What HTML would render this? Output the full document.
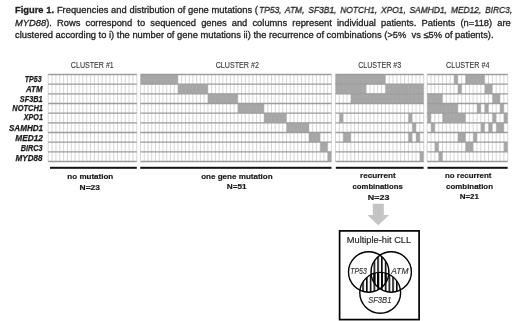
<!DOCTYPE html>
<html><head><meta charset="utf-8">
<style>
html,body{margin:0;padding:0;background:#fff;}
body{width:520px;height:321px;overflow:hidden;position:relative;filter:blur(0.35px);}
svg{position:absolute;left:0;top:0;will-change:transform;}
text{font-family:"Liberation Sans",sans-serif;}
.cap{will-change:transform;position:absolute;left:15.4px;font-family:"Liberation Sans",sans-serif;font-size:9.36px;line-height:10px;color:#222;-webkit-text-stroke:0.3px #222;white-space:nowrap;}
#c1{width:243px;text-align:justify;text-align-last:justify;}
#c1b{left:258.6px;width:281.3px;text-align:justify;text-align-last:justify;transform:scaleX(0.9);transform-origin:0 0;}
#c2{width:495.8px;text-align:justify;text-align-last:justify;}
.hdr{font-size:9.6px;fill:#333;stroke:#333;stroke-width:0.1px;}
.gene{font-size:8.8px;font-weight:bold;font-style:italic;fill:#1a1a1a;stroke:#1a1a1a;stroke-width:0.25px;}
.lbl{font-size:7.9px;font-weight:bold;fill:#1a1a1a;stroke:#1a1a1a;stroke-width:0.2px;}
.venn{font-size:8.6px;font-style:italic;fill:#333;stroke:#333;stroke-width:0.15px;}
.mh{font-size:9px;fill:#222;stroke:#222;stroke-width:0.15px;}
</style></head><body>

<div class="cap" id="c1" style="top:5.16px"><b>Figure 1.</b> Frequencies and distribution of gene mutations (</div>
<div class="cap" id="c1b" style="top:5.16px"><i>TP53, ATM, SF3B1, NOTCH1, XPO1, SAMHD1, MED12, BIRC3,</i></div>
<div class="cap" id="c2" style="top:17.56px"><i>MYD88</i>). Rows correspond to sequenced genes and columns represent individual patients. Patients (n=118) are</div>
<div class="cap" id="c3" style="top:29.66px">clustered according to i) the number of gene mutations ii) the recurrence of combinations (&gt;5%&nbsp; vs &#8804;5% of patients).</div>

<svg width="520" height="321" viewBox="0 0 520 321">
<defs>
<pattern id="hatch" patternUnits="userSpaceOnUse" x="362.3" y="0" width="3.75" height="10">
<rect x="0" y="0" width="1.55" height="10" fill="#000"/>
</pattern>
<clipPath id="cT"><circle cx="368.7" cy="272" r="20.2"/></clipPath>
<clipPath id="cA"><circle cx="391.2" cy="272" r="20.2"/></clipPath>
<clipPath id="cS"><circle cx="380.2" cy="292.8" r="20.4"/></clipPath>
</defs>
<rect x="48.2" y="74.5" width="88.6" height="87" fill="#fff"/>
<path d="M48.2 74.5V161.5M52.05 74.5V161.5M55.9 74.5V161.5M59.76 74.5V161.5M63.61 74.5V161.5M67.46 74.5V161.5M71.31 74.5V161.5M75.17 74.5V161.5M79.02 74.5V161.5M82.87 74.5V161.5M86.72 74.5V161.5M90.57 74.5V161.5M94.43 74.5V161.5M98.28 74.5V161.5M102.13 74.5V161.5M105.98 74.5V161.5M109.83 74.5V161.5M113.69 74.5V161.5M117.54 74.5V161.5M121.39 74.5V161.5M125.24 74.5V161.5M129.1 74.5V161.5M132.95 74.5V161.5M136.8 74.5V161.5" stroke="#aeaeae" stroke-width="0.5" fill="none"/>
<path d="M48.2 74.5H136.8M48.2 84.17H136.8M48.2 93.83H136.8M48.2 103.5H136.8M48.2 113.17H136.8M48.2 122.83H136.8M48.2 132.5H136.8M48.2 142.17H136.8M48.2 151.83H136.8M48.2 161.5H136.8" stroke="#9c9c9c" stroke-width="1.3" fill="none"/>
<rect x="140.5" y="74.5" width="190.9" height="87" fill="#fff"/>
<rect x="140.5" y="74.5" width="37.43" height="9.67" fill="#a6a6a6"/>
<rect x="177.93" y="84.17" width="29.95" height="9.67" fill="#a6a6a6"/>
<rect x="207.88" y="93.83" width="29.95" height="9.67" fill="#a6a6a6"/>
<rect x="237.82" y="103.5" width="26.2" height="9.67" fill="#a6a6a6"/>
<rect x="264.02" y="113.17" width="22.46" height="9.67" fill="#a6a6a6"/>
<rect x="286.48" y="122.83" width="22.46" height="9.67" fill="#a6a6a6"/>
<rect x="308.94" y="132.5" width="11.23" height="9.67" fill="#a6a6a6"/>
<rect x="320.17" y="142.17" width="7.49" height="9.67" fill="#a6a6a6"/>
<rect x="327.66" y="151.83" width="3.74" height="9.67" fill="#a6a6a6"/>
<path d="M140.5 74.5V161.5M144.24 74.5V161.5M147.99 74.5V161.5M151.73 74.5V161.5M155.47 74.5V161.5M159.22 74.5V161.5M162.96 74.5V161.5M166.7 74.5V161.5M170.45 74.5V161.5M174.19 74.5V161.5M177.93 74.5V161.5M181.67 74.5V161.5M185.42 74.5V161.5M189.16 74.5V161.5M192.9 74.5V161.5M196.65 74.5V161.5M200.39 74.5V161.5M204.13 74.5V161.5M207.88 74.5V161.5M211.62 74.5V161.5M215.36 74.5V161.5M219.11 74.5V161.5M222.85 74.5V161.5M226.59 74.5V161.5M230.34 74.5V161.5M234.08 74.5V161.5M237.82 74.5V161.5M241.56 74.5V161.5M245.31 74.5V161.5M249.05 74.5V161.5M252.79 74.5V161.5M256.54 74.5V161.5M260.28 74.5V161.5M264.02 74.5V161.5M267.77 74.5V161.5M271.51 74.5V161.5M275.25 74.5V161.5M279 74.5V161.5M282.74 74.5V161.5M286.48 74.5V161.5M290.23 74.5V161.5M293.97 74.5V161.5M297.71 74.5V161.5M301.45 74.5V161.5M305.2 74.5V161.5M308.94 74.5V161.5M312.68 74.5V161.5M316.43 74.5V161.5M320.17 74.5V161.5M323.91 74.5V161.5M327.66 74.5V161.5M331.4 74.5V161.5" stroke="#aeaeae" stroke-width="0.5" fill="none"/>
<path d="M140.5 74.5H331.4M140.5 84.17H331.4M140.5 93.83H331.4M140.5 103.5H331.4M140.5 113.17H331.4M140.5 122.83H331.4M140.5 132.5H331.4M140.5 142.17H331.4M140.5 151.83H331.4M140.5 161.5H331.4" stroke="#9c9c9c" stroke-width="1.3" fill="none"/>
<rect x="335.5" y="74.5" width="88.2" height="87" fill="#fff"/>
<rect x="335.5" y="74.5" width="49.85" height="9.67" fill="#a6a6a6"/>
<rect x="335.5" y="84.17" width="30.68" height="9.67" fill="#a6a6a6"/>
<rect x="385.35" y="84.17" width="38.35" height="9.67" fill="#a6a6a6"/>
<rect x="350.84" y="93.83" width="72.86" height="9.67" fill="#a6a6a6"/>
<rect x="339.33" y="113.17" width="3.83" height="9.67" fill="#a6a6a6"/>
<rect x="408.36" y="113.17" width="3.83" height="9.67" fill="#a6a6a6"/>
<rect x="412.2" y="122.83" width="3.83" height="9.67" fill="#a6a6a6"/>
<rect x="343.17" y="132.5" width="7.67" height="9.67" fill="#a6a6a6"/>
<rect x="408.36" y="132.5" width="3.83" height="9.67" fill="#a6a6a6"/>
<rect x="416.03" y="132.5" width="3.83" height="9.67" fill="#a6a6a6"/>
<rect x="419.87" y="151.83" width="3.83" height="9.67" fill="#a6a6a6"/>
<path d="M335.5 74.5V161.5M339.33 74.5V161.5M343.17 74.5V161.5M347 74.5V161.5M350.84 74.5V161.5M354.67 74.5V161.5M358.51 74.5V161.5M362.34 74.5V161.5M366.18 74.5V161.5M370.01 74.5V161.5M373.85 74.5V161.5M377.68 74.5V161.5M381.52 74.5V161.5M385.35 74.5V161.5M389.19 74.5V161.5M393.02 74.5V161.5M396.86 74.5V161.5M400.69 74.5V161.5M404.53 74.5V161.5M408.36 74.5V161.5M412.2 74.5V161.5M416.03 74.5V161.5M419.87 74.5V161.5M423.7 74.5V161.5" stroke="#aeaeae" stroke-width="0.5" fill="none"/>
<path d="M335.5 74.5H423.7M335.5 84.17H423.7M335.5 93.83H423.7M335.5 103.5H423.7M335.5 113.17H423.7M335.5 122.83H423.7M335.5 132.5H423.7M335.5 142.17H423.7M335.5 151.83H423.7M335.5 161.5H423.7" stroke="#9c9c9c" stroke-width="1.3" fill="none"/>
<rect x="427.2" y="74.5" width="80.5" height="87" fill="#fff"/>
<rect x="454.03" y="74.5" width="3.83" height="9.67" fill="#a6a6a6"/>
<rect x="465.53" y="74.5" width="19.17" height="9.67" fill="#a6a6a6"/>
<rect x="457.87" y="84.17" width="3.83" height="9.67" fill="#a6a6a6"/>
<rect x="484.7" y="84.17" width="7.67" height="9.67" fill="#a6a6a6"/>
<rect x="427.2" y="93.83" width="15.33" height="9.67" fill="#a6a6a6"/>
<rect x="492.37" y="93.83" width="7.67" height="9.67" fill="#a6a6a6"/>
<rect x="427.2" y="103.5" width="30.67" height="9.67" fill="#a6a6a6"/>
<rect x="477.03" y="103.5" width="3.83" height="9.67" fill="#a6a6a6"/>
<rect x="484.7" y="103.5" width="3.83" height="9.67" fill="#a6a6a6"/>
<rect x="500.03" y="103.5" width="3.83" height="9.67" fill="#a6a6a6"/>
<rect x="427.2" y="113.17" width="3.83" height="9.67" fill="#a6a6a6"/>
<rect x="442.53" y="113.17" width="23" height="9.67" fill="#a6a6a6"/>
<rect x="492.37" y="113.17" width="3.83" height="9.67" fill="#a6a6a6"/>
<rect x="503.87" y="113.17" width="3.83" height="9.67" fill="#a6a6a6"/>
<rect x="431.03" y="122.83" width="3.83" height="9.67" fill="#a6a6a6"/>
<rect x="480.87" y="122.83" width="3.83" height="9.67" fill="#a6a6a6"/>
<rect x="488.53" y="122.83" width="3.83" height="9.67" fill="#a6a6a6"/>
<rect x="496.2" y="122.83" width="7.67" height="9.67" fill="#a6a6a6"/>
<rect x="457.87" y="132.5" width="7.67" height="9.67" fill="#a6a6a6"/>
<rect x="473.2" y="132.5" width="3.83" height="9.67" fill="#a6a6a6"/>
<rect x="434.87" y="142.17" width="3.83" height="9.67" fill="#a6a6a6"/>
<rect x="465.53" y="142.17" width="7.67" height="9.67" fill="#a6a6a6"/>
<rect x="503.87" y="142.17" width="3.83" height="9.67" fill="#a6a6a6"/>
<rect x="438.7" y="151.83" width="3.83" height="9.67" fill="#a6a6a6"/>
<path d="M427.2 74.5V161.5M431.03 74.5V161.5M434.87 74.5V161.5M438.7 74.5V161.5M442.53 74.5V161.5M446.37 74.5V161.5M450.2 74.5V161.5M454.03 74.5V161.5M457.87 74.5V161.5M461.7 74.5V161.5M465.53 74.5V161.5M469.37 74.5V161.5M473.2 74.5V161.5M477.03 74.5V161.5M480.87 74.5V161.5M484.7 74.5V161.5M488.53 74.5V161.5M492.37 74.5V161.5M496.2 74.5V161.5M500.03 74.5V161.5M503.87 74.5V161.5M507.7 74.5V161.5" stroke="#aeaeae" stroke-width="0.5" fill="none"/>
<path d="M427.2 74.5H507.7M427.2 84.17H507.7M427.2 93.83H507.7M427.2 103.5H507.7M427.2 113.17H507.7M427.2 122.83H507.7M427.2 132.5H507.7M427.2 142.17H507.7M427.2 151.83H507.7M427.2 161.5H507.7" stroke="#9c9c9c" stroke-width="1.3" fill="none"/>
<rect x="50" y="166.8" width="86.8" height="2" fill="#111"/>
<rect x="140.2" y="166.8" width="191.3" height="2" fill="#111"/>
<rect x="335.8" y="166.8" width="87.8" height="2" fill="#111"/>
<rect x="427.5" y="166.8" width="80.1" height="2" fill="#111"/>
<path d="M372.8 203.7H383.8V214.9H389.2L378.3 225.3L367.4 214.9H372.8Z" fill="#c4c4c4"/>
<rect x="339.6" y="230.9" width="79.5" height="88.7" fill="none" stroke="#000" stroke-width="1.7"/>
<g clip-path="url(#cT)"><g clip-path="url(#cA)"><rect x="340" y="240" width="80" height="80" fill="url(#hatch)"/></g></g>
<g clip-path="url(#cT)"><g clip-path="url(#cS)"><rect x="340" y="240" width="80" height="80" fill="url(#hatch)"/></g></g>
<g clip-path="url(#cA)"><g clip-path="url(#cS)"><rect x="340" y="240" width="80" height="80" fill="url(#hatch)"/></g></g>
<circle cx="368.7" cy="272" r="20.2" fill="none" stroke="#000" stroke-width="1.4"/>
<circle cx="391.2" cy="272" r="20.2" fill="none" stroke="#000" stroke-width="1.4"/>
<circle cx="380.2" cy="292.8" r="20.4" fill="none" stroke="#000" stroke-width="1.4"/>
<text id="h1" class="hdr" x="70.84" y="67.8" textLength="42.98" lengthAdjust="spacingAndGlyphs">CLUSTER #1</text>
<text id="h2" class="hdr" x="215.7" y="67.9" textLength="43.24" lengthAdjust="spacingAndGlyphs">CLUSTER #2</text>
<text id="h3" class="hdr" x="358.13" y="67.7" textLength="43.05" lengthAdjust="spacingAndGlyphs">CLUSTER #3</text>
<text id="h4" class="hdr" x="446" y="67.7" textLength="43.43" lengthAdjust="spacingAndGlyphs">CLUSTER #4</text>
<text id="g1" class="gene" x="24.76" y="81.6" textLength="16.89" lengthAdjust="spacingAndGlyphs">TP53</text>
<text id="g2" class="gene" x="26.06" y="91.5" textLength="16.38" lengthAdjust="spacingAndGlyphs">ATM</text>
<text id="g3" class="gene" x="19.75" y="101.5" textLength="22.86" lengthAdjust="spacingAndGlyphs">SF3B1</text>
<text id="g4" class="gene" x="12.35" y="110.9" textLength="30.53" lengthAdjust="spacingAndGlyphs">NOTCH1</text>
<text id="g5" class="gene" x="23.84" y="120.2" textLength="19.03" lengthAdjust="spacingAndGlyphs">XPO1</text>
<text id="g6" class="gene" x="8.94" y="130.5" textLength="34.19" lengthAdjust="spacingAndGlyphs">SAMHD1</text>
<text id="g7" class="gene" x="15.37" y="140.9" textLength="27.5" lengthAdjust="spacingAndGlyphs">MED12</text>
<text id="g8" class="gene" x="20.66" y="150.9" textLength="21.8" lengthAdjust="spacingAndGlyphs">BIRC3</text>
<text id="g9" class="gene" x="15.52" y="160.7" textLength="26.95" lengthAdjust="spacingAndGlyphs">MYD88</text>
<text id="l1" class="lbl" x="67.37" y="179.3" textLength="45.93" lengthAdjust="spacingAndGlyphs">no mutation</text>
<text id="l2" class="lbl" x="79.57" y="189.5" textLength="20.32" lengthAdjust="spacingAndGlyphs">N=23</text>
<text id="l3" class="lbl" x="201.18" y="179.2" textLength="71.53" lengthAdjust="spacingAndGlyphs">one gene mutation</text>
<text id="l4" class="lbl" x="226.88" y="188.9" textLength="19.73" lengthAdjust="spacingAndGlyphs">N=51</text>
<text id="l5" class="lbl" x="360" y="178.4" textLength="35.72" lengthAdjust="spacingAndGlyphs">recurrent</text>
<text id="l6" class="lbl" x="352.52" y="188.9" textLength="50.19" lengthAdjust="spacingAndGlyphs">combinations</text>
<text id="l7" class="lbl" x="367.86" y="199.5" textLength="21.51" lengthAdjust="spacingAndGlyphs">N=23</text>
<text id="l8" class="lbl" x="445" y="178.4" textLength="46.41" lengthAdjust="spacingAndGlyphs">no recurrent</text>
<text id="l9" class="lbl" x="446.12" y="189.0" textLength="46.87" lengthAdjust="spacingAndGlyphs">combination</text>
<text id="l10" class="lbl" x="459.7" y="199.4" textLength="19.27" lengthAdjust="spacingAndGlyphs">N=21</text>
<text id="m1" class="mh" x="346.79" y="242.9" textLength="64.41" lengthAdjust="spacingAndGlyphs">Multiple-hit CLL</text>
<text id="v1" class="venn" x="350.2" y="274.4" textLength="16.68" lengthAdjust="spacingAndGlyphs">TP53</text>
<text id="v2" class="venn" x="391.25" y="273.5" textLength="17.16" lengthAdjust="spacingAndGlyphs">ATM</text>
<text id="v3" class="venn" x="368.14" y="302.9" textLength="23.25" lengthAdjust="spacingAndGlyphs">SF3B1</text>
</svg>
</body></html>
